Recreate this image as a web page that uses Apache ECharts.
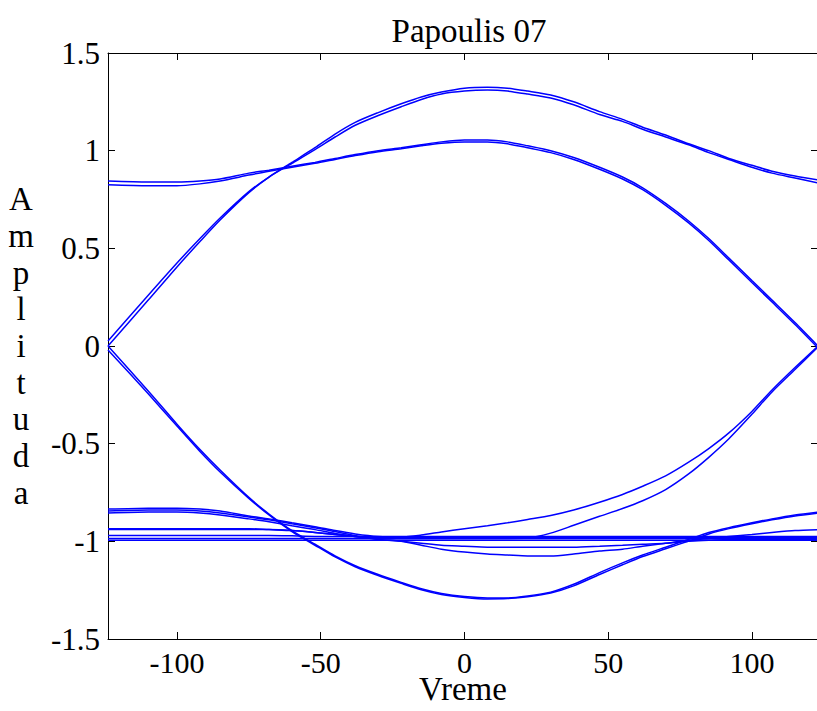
<!DOCTYPE html>
<html>
<head>
<meta charset="utf-8">
<script src="https://cdn.jsdelivr.net/npm/echarts@6/dist/echarts.min.js"></script>
<style>
html,body{margin:0;padding:0;background:#fff;}
#chart{width:817px;height:711px;}
</style>
</head>
<body>
<div id="chart"></div>
<script>
// ---- data ----
const timeSamples = [-124,-110,-100,-92,-85,-75,-68,-60,-52,-45,-38,-30,-22,-15,-8,0,8,15,22,30,38,47,55,62,70,78,85,92,100,107,115,123];

const upperOuterA = [0.00,0.235,0.405,0.535,0.645,0.785,0.865,0.94,1.015,1.085,1.145,1.195,1.24,1.275,1.30,1.32,1.325,1.32,1.305,1.285,1.25,1.20,1.16,1.12,1.08,1.035,1.00,0.96,0.925,0.895,0.87,0.85];
const upperOuterB = [0.025,0.26,0.425,0.55,0.655,0.79,0.865,0.935,1.005,1.07,1.13,1.18,1.225,1.262,1.29,1.305,1.31,1.305,1.29,1.27,1.235,1.185,1.15,1.11,1.07,1.03,0.99,0.955,0.915,0.885,0.86,0.835];
const upperInnerA = [0.845,0.84,0.84,0.845,0.855,0.885,0.90,0.92,0.94,0.96,0.98,1.0,1.015,1.03,1.045,1.055,1.055,1.045,1.025,1.0,0.965,0.915,0.865,0.81,0.73,0.64,0.55,0.45,0.335,0.235,0.12,0.0];
const upperInnerB = [0.825,0.82,0.82,0.83,0.845,0.875,0.895,0.915,0.935,0.955,0.975,0.995,1.01,1.025,1.038,1.045,1.045,1.035,1.015,0.99,0.955,0.905,0.855,0.80,0.72,0.63,0.54,0.44,0.325,0.225,0.11,-0.01];

const lowerOuterA = [0.0,-0.23,-0.40,-0.53,-0.635,-0.775,-0.86,-0.945,-1.015,-1.075,-1.125,-1.17,-1.21,-1.243,-1.267,-1.283,-1.29,-1.29,-1.28,-1.26,-1.22,-1.16,-1.11,-1.07,-1.03,-0.99,-0.955,-0.93,-0.905,-0.885,-0.865,-0.85];
const lowerOuterB = [-0.02,-0.245,-0.41,-0.54,-0.645,-0.78,-0.865,-0.95,-1.02,-1.08,-1.13,-1.175,-1.215,-1.248,-1.272,-1.287,-1.295,-1.293,-1.284,-1.265,-1.228,-1.17,-1.12,-1.078,-1.038,-0.998,-0.962,-0.935,-0.91,-0.89,-0.87,-0.855];
const lowerMidA = [-0.845,-0.84,-0.84,-0.845,-0.855,-0.875,-0.89,-0.91,-0.93,-0.95,-0.97,-0.99,-1.0,-1.02,-1.04,-1.055,-1.065,-1.07,-1.075,-1.075,-1.065,-1.05,-1.04,-1.025,-1.01,-0.995,-0.985,-0.975,-0.965,-0.955,-0.945,-0.94];
const lowerMidB = [-0.855,-0.85,-0.85,-0.855,-0.865,-0.885,-0.90,-0.92,-0.94,-0.96,-0.975,-0.99,-1.0,-1.01,-1.02,-1.025,-1.03,-1.03,-1.03,-1.03,-1.03,-1.025,-1.02,-1.015,-1.01,-1.0,-0.995,-0.99,-0.99,-0.99,-0.99,-0.99];
const lowerInnerA = [-0.835,-0.83,-0.83,-0.835,-0.845,-0.87,-0.885,-0.905,-0.925,-0.945,-0.962,-0.975,-0.978,-0.968,-0.952,-0.935,-0.92,-0.905,-0.888,-0.868,-0.84,-0.80,-0.76,-0.718,-0.665,-0.595,-0.525,-0.445,-0.335,-0.225,-0.11,0.0];
const lowerInnerB = [-0.94,-0.94,-0.94,-0.94,-0.94,-0.94,-0.94,-0.945,-0.955,-0.965,-0.975,-0.985,-0.985,-0.985,-0.985,-0.985,-0.985,-0.985,-0.983,-0.958,-0.918,-0.872,-0.832,-0.792,-0.735,-0.655,-0.57,-0.475,-0.35,-0.235,-0.12,-0.005];
const lowerFlatA = [-0.935,-0.935,-0.935,-0.935,-0.935,-0.935,-0.94,-0.945,-0.955,-0.965,-0.975,-0.98,-0.98,-0.98,-0.98,-0.98,-0.98,-0.98,-0.98,-0.98,-0.98,-0.98,-0.98,-0.98,-0.98,-0.98,-0.98,-0.98,-0.98,-0.98,-0.98,-0.98];
const bandA = [-0.97,-0.97,-0.97,-0.97,-0.97,-0.97,-0.97,-0.972,-0.975,-0.975,-0.975,-0.975,-0.975,-0.975,-0.975,-0.975,-0.975,-0.975,-0.975,-0.975,-0.975,-0.975,-0.975,-0.975,-0.975,-0.975,-0.975,-0.975,-0.975,-0.975,-0.975,-0.975];
const bandB = [-0.985,-0.985,-0.985,-0.985,-0.985,-0.985,-0.985,-0.985,-0.985,-0.985,-0.985,-0.985,-0.985,-0.985,-0.985,-0.985,-0.985,-0.985,-0.985,-0.985,-0.985,-0.985,-0.985,-0.985,-0.985,-0.985,-0.985,-0.985,-0.985,-0.985,-0.985,-0.985];
const bandC = [-0.995,-0.995,-0.995,-0.995,-0.995,-0.995,-0.995,-0.995,-0.995,-0.995,-0.995,-0.995,-0.995,-0.995,-0.995,-0.995,-0.995,-0.995,-0.995,-0.995,-0.995,-0.995,-0.995,-0.995,-0.995,-0.995,-0.995,-0.995,-0.995,-0.995,-0.995,-0.995];

const traces = [upperOuterA, upperOuterB, upperInnerA, upperInnerB,
  lowerOuterA, lowerOuterB, lowerMidA, lowerMidB, lowerInnerA, lowerInnerB,
  lowerFlatA, bandA, bandB, bandC];

const xTickValues = [-100, -50, 0, 50, 100];
const yTickLabels = ['-1.5', '-1', '-0.5', '0', '0.5', '1', '1.5'];
const titleText = 'Papoulis 07';
const xLabel = 'Vreme';
const yLabel = 'Amplituda';

// ---- chart ----
const FONT = '"Liberation Serif", "Times New Roman", serif';
const chart = echarts.init(document.getElementById('chart'), null, {renderer: 'svg'});

const axisLineStyle = {color: '#000', width: 1};
const series = traces.map(tr => ({
  type: 'line',
  data: timeSamples.map((t, i) => [t, tr[i]]),
  showSymbol: false,
  smooth: 0.25,
  lineStyle: {color: '#0000ff', width: 1.5},
  animation: false,
  silent: true,
  clip: true
}));

chart.setOption({
  backgroundColor: '#fff',
  animation: false,
  title: {
    text: titleText,
    left: 464,
    top: 9,
    textAlign: 'center',
    textStyle: {fontFamily: FONT, fontWeight: 'normal', fontSize: 33, color: '#000'}
  },
  grid: {left: 108, right: -1, top: 53, bottom: 72, containLabel: false, outerBoundsMode: 'none'},
  xAxis: [{
    type: 'value', min: -124, max: 123, position: 'bottom',
    axisLine: {show: true, onZero: false, lineStyle: axisLineStyle},
    axisTick: {show: true, inside: true, length: 7, lineStyle: axisLineStyle, customValues: xTickValues},
    axisLabel: {show: true, customValues: xTickValues, margin: 12, lineHeight: 22, fontFamily: FONT, fontSize: 30, color: '#000'},
    splitLine: {show: false},
    name: xLabel, nameLocation: 'middle', nameGap: 38, nameMoveOverlap: false,
    nameTextStyle: {fontFamily: FONT, fontSize: 33, lineHeight: 24, color: '#000'}
  }, {
    type: 'value', min: -124, max: 123, position: 'top',
    axisLine: {show: true, onZero: false, lineStyle: axisLineStyle},
    axisTick: {show: true, inside: true, length: 7, lineStyle: axisLineStyle, customValues: xTickValues},
    axisLabel: {show: false},
    splitLine: {show: false}
  }],
  yAxis: [{
    type: 'value', min: -1.5, max: 1.5, interval: 0.5, position: 'left',
    axisLine: {show: true, onZero: false, lineStyle: axisLineStyle},
    axisTick: {show: true, inside: true, length: 7, lineStyle: axisLineStyle},
    axisLabel: {show: true, margin: 8, fontFamily: FONT, fontSize: 31, color: '#000',
      formatter: v => yTickLabels[Math.round((v + 1.5) / 0.5)]},
    splitLine: {show: false}
  }, {
    type: 'value', min: -1.5, max: 1.5, interval: 0.5, position: 'right',
    axisLine: {show: true, onZero: false, lineStyle: axisLineStyle},
    axisTick: {show: true, inside: true, length: 7, lineStyle: axisLineStyle},
    axisLabel: {show: false},
    splitLine: {show: false}
  }],
  graphic: [{
    type: 'text',
    x: 21, y: 346,
    style: {
      text: yLabel.split('').join('\n'),
      align: 'center', verticalAlign: 'middle',
      fontFamily: FONT, fontSize: 33, lineHeight: 36.7, fill: '#000'
    }
  }],
  series: series
});
</script>
</body>
</html>
